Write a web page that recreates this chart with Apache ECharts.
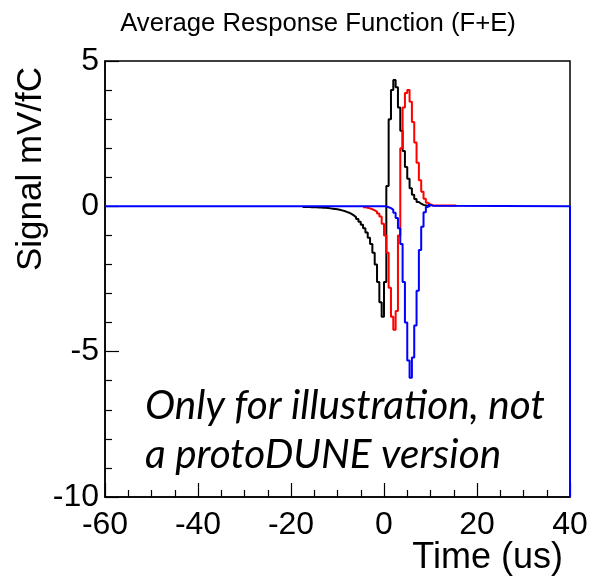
<!DOCTYPE html>
<html>
<head>
<meta charset="utf-8">
<script src="https://cdn.jsdelivr.net/npm/echarts@6/dist/echarts.min.js"></script>
<style>html,body{margin:0;padding:0;background:#fff}#c{width:593px;height:580px}</style>
</head>
<body>
<div id="c"></div>
<script>
const titleText = 'Average Response Function (F+E)';
const xAxisTitle = 'Time (us)';
const yAxisTitle = 'Signal mV/fC';
const noteLines = ['Only for illustration, not', 'a protoDUNE version'];
const xTicks = [-60, -40, -20, 0, 20, 40];
const yTicks = [-10, -5, 0, 5];
const binWidth = 0.5;

// black: bins start at blackStart, width binWidth
const blackStart = -17.5;
const blackValues = [-0.02,-0.02,-0.02,-0.03,-0.03,-0.03,-0.04,-0.04,-0.05,-0.05,
  -0.06,-0.07,-0.08,-0.09,-0.10,-0.12,-0.14,-0.16,-0.19,-0.22,
  -0.26,-0.31,-0.37,-0.44,-0.53,-0.63,-0.75,-0.90,-1.08,-1.30,
  -1.60,-2.00,-2.60,-3.30,-3.80,-2.60,0.70,3.00,4.00,4.35,
  4.10,3.40,2.60,1.90,1.35,0.95,0.62,0.40,0.25,0.15,
  0.09,0.05,0.03,0.01,0.00];

const redStart = -4.5;
const redValues = [-0.03,-0.05,-0.07,-0.10,-0.14,-0.18,-0.25,-0.35,-0.60,-1.00,
  -1.60,-2.80,-3.80,-4.25,-3.60,-1.00,2.00,3.40,3.90,4.00,
  3.60,2.90,2.20,1.50,0.90,0.50,0.26,0.12,0.06,0.04,
  0.03,0.03,0.03,0.03,0.03,0.03,0.03,0.03,0.03,0.03];

const blueRange = [-60, 40];
const blueStart = 0.5;
const blueValues = [-0.03,-0.06,-0.12,-0.22,-0.40,-0.75,-1.30,-2.60,-4.00,-5.30,
  -5.90,-5.20,-4.10,-2.90,-1.50,-0.70,-0.20,-0.02,0.05,0.02];
const blueEdgeDrop = -10;

function hist(start, vals) {
  const d = vals.map((v, i) => [start + i * binWidth, v]);
  d.push([start + vals.length * binWidth, 0]);
  return d;
}
const blackData = hist(blackStart, blackValues);
const redData = hist(redStart, redValues);
const blueData = [[blueRange[0], 0]].concat(hist(blueStart, blueValues))
  .concat([[blueRange[1], 0], [blueRange[1], blueEdgeDrop]]);

const FONT = 'Liberation Sans';
const chart = echarts.init(document.getElementById('c'));
const axisCommon = {
  axisLine: { show: true, onZero: false, lineStyle: { color: '#000', width: 1.5 } },
  axisTick: { show: true, inside: true, length: 14, lineStyle: { color: '#000', width: 1.2 } },
  minorTick: { show: true, length: 7, lineStyle: { color: '#000', width: 1.2 } },
  splitLine: { show: false },
  axisLabel: { color: '#000', fontFamily: FONT, fontSize: 32 }
};
chart.setOption({
  animation: false,
  backgroundColor: '#fff',
  grid: { left: 105, right: 23, top: 61, bottom: 83, show: true, borderColor: '#000', borderWidth: 1.5, containLabel: false },
  xAxis: Object.assign({}, axisCommon, {
    type: 'value', min: xTicks[0], max: xTicks[xTicks.length - 1], interval: 20,
    minorTick: Object.assign({}, axisCommon.minorTick, { splitNumber: 4 }),
    axisLabel: Object.assign({}, axisCommon.axisLabel, { margin: 12 })
  }),
  yAxis: Object.assign({}, axisCommon, {
    type: 'value', min: yTicks[0], max: yTicks[yTicks.length - 1], interval: 5,
    minorTick: Object.assign({}, axisCommon.minorTick, { splitNumber: 5 }),
    axisLabel: Object.assign({}, axisCommon.axisLabel, { margin: 6 })
  }),
  series: [
    { type: 'line', data: blackData, step: 'end', showSymbol: false, symbol: 'none', lineStyle: { color: '#000', width: 2 }, z: 3 },
    { type: 'line', data: redData, step: 'end', showSymbol: false, symbol: 'none', lineStyle: { color: '#ff0000', width: 2 }, z: 4 },
    { type: 'line', data: blueData, step: 'end', showSymbol: false, symbol: 'none', lineStyle: { color: '#0000ff', width: 2 }, z: 5 }
  ],
  graphic: [
    { type: 'text', style: { text: titleText, x: 318, y: 24, align: 'center', verticalAlign: 'middle', font: '25.7px "Liberation Sans"', fill: '#000' } },
    { type: 'text', style: { text: xAxisTitle, x: 563, y: 558, align: 'right', verticalAlign: 'middle', font: '36px "Liberation Sans"', fill: '#000' } },
    { type: 'text', rotation: Math.PI / 2, x: 31, y: 169, style: { text: yAxisTitle, x: 0, y: 0, align: 'center', verticalAlign: 'middle', font: '35px "Liberation Sans"', fill: '#000' } },
    { type: 'text', z: 10, style: { text: noteLines[0], x: 145, y: 406, align: 'left', verticalAlign: 'middle', font: 'italic 40.5px Lato', fill: '#000' } },
    { type: 'text', z: 10, style: { text: noteLines[1], x: 145, y: 455, align: 'left', verticalAlign: 'middle', font: 'italic 40.5px Lato', fill: '#000' } }
  ]
});
</script>
</body>
</html>
